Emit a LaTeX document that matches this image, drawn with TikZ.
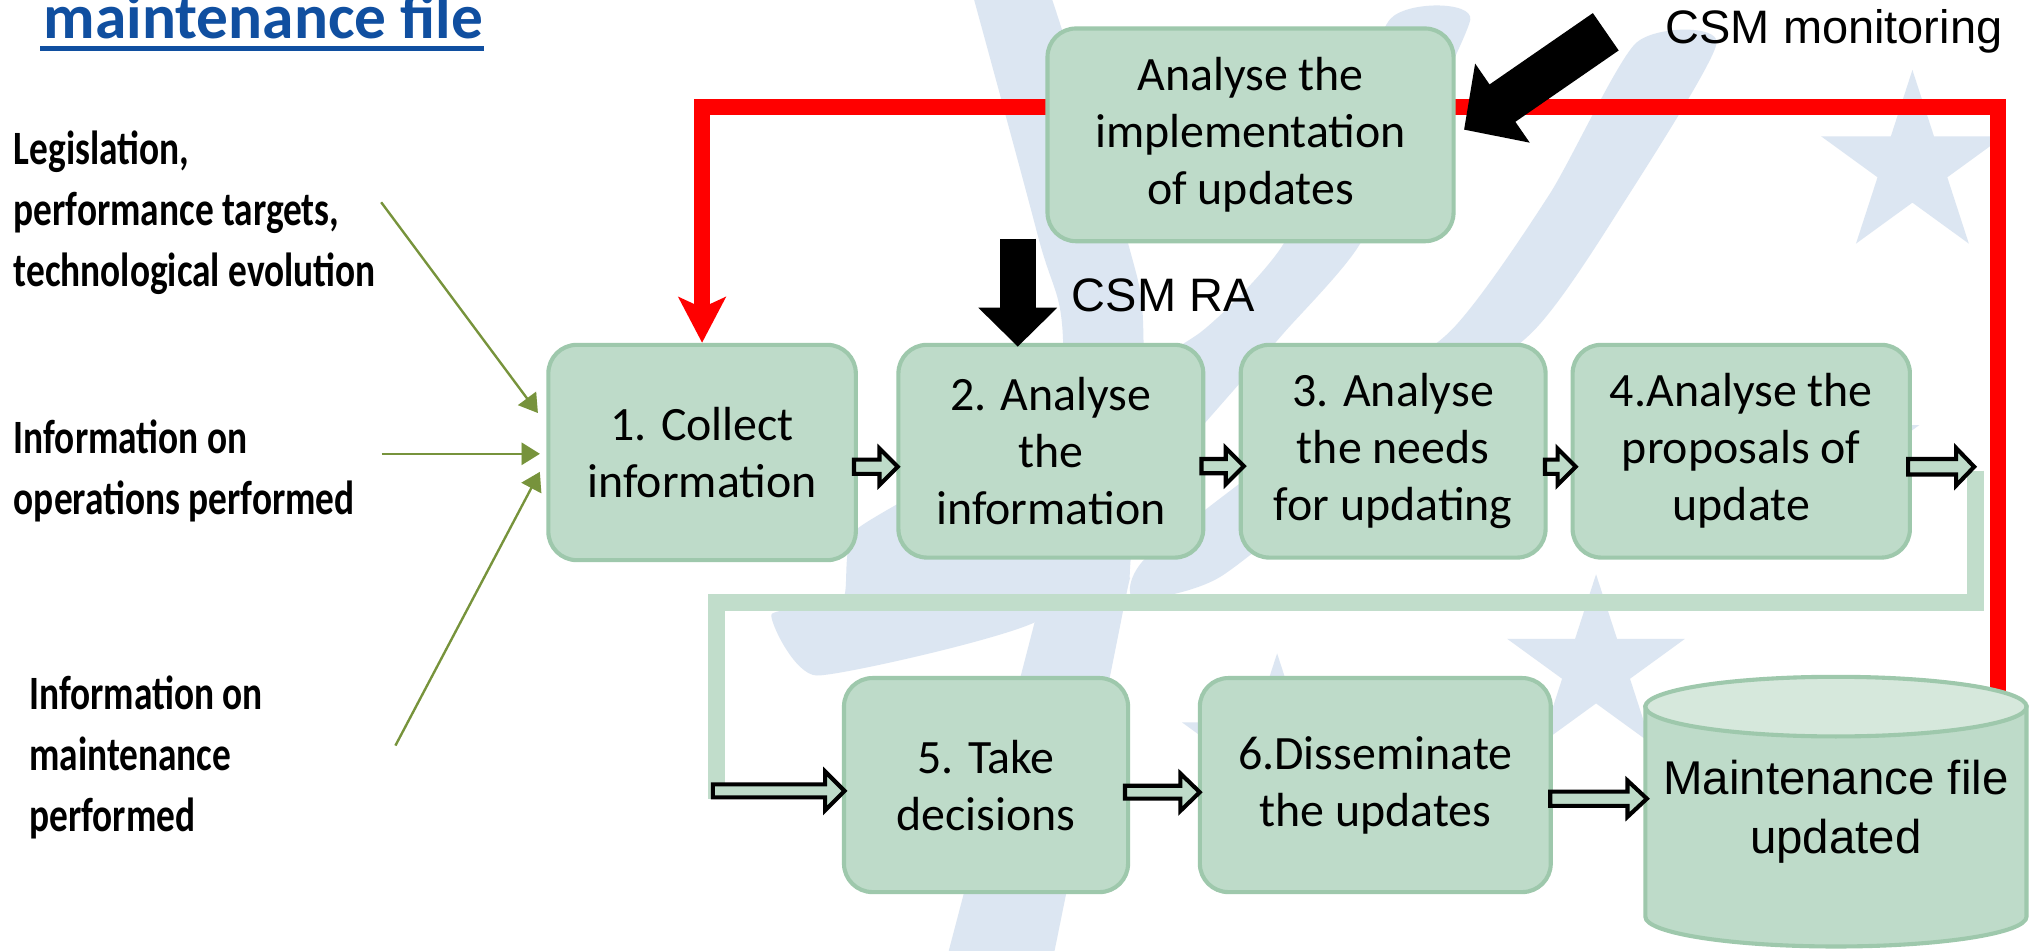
\documentclass[tikz,border=0pt]{standalone}
\usepackage{fontspec}
\setmainfont{Carlito}
\newfontfamily\arialfont{Liberation Sans}
\newfontfamily\sidefont[FakeStretch=0.78]{Carlito}
\usetikzlibrary{arrows.meta,calc,shapes.geometric}

\definecolor{boxfill}{RGB}{190,219,201}
\definecolor{boxline}{RGB}{158,200,172}
\definecolor{cylcap}{RGB}{214,232,220}
\definecolor{loopgreen}{RGB}{193,221,203}
\definecolor{olive}{RGB}{119,147,60}
\definecolor{oliveshadow}{RGB}{215,228,189}
\definecolor{wmblue}{RGB}{220,230,242}
\definecolor{titleblue}{RGB}{16,79,160}
\definecolor{fbred}{RGB}{255,0,0}

\tikzset{
  stepbox/.style={draw=boxline, fill=boxfill, line width=0.9pt, rounded corners=0.22cm,
    align=center, inner sep=0pt, font=\fontsize{10.5}{12.5}\selectfont},
  hollow/.style={draw=black, fill=boxfill, line width=0.9pt, line join=miter},
  sidetext/.style={anchor=west, align=left, inner sep=0pt,
    font=\sidefont\bfseries\fontsize{10.5}{13.4}\selectfont},
  csmlabel/.style={anchor=base west, inner sep=0pt, font=\arialfont\fontsize{10.3}{12}\selectfont},
  inarrow/.style={draw=olive, line width=0.5pt, -{Triangle[length=0.14cm, width=0.17cm]}},
  inshadow/.style={draw=oliveshadow, line width=0.5pt, -{Triangle[length=0.14cm, width=0.17cm]}},
  loopband/.style={draw=loopgreen, line width=0.13cm, line join=miter},
  wmstar/.style={star, star points=5, star point ratio=2.618, fill=wmblue, draw=none, inner sep=0pt}
}

% outlined block arrow: start, tip, half body, half head, head length
\newcommand\hollowarrow[5]{%
  \draw[hollow] let \p1=(#1), \p2=(#2) in
    (\x1,{\y1+#3*0.01cm}) -- ({\x2-#5*0.01cm},{\y1+#3*0.01cm})
    -- ({\x2-#5*0.01cm},{\y1+#4*0.01cm}) -- (\x2,\y1)
    -- ({\x2-#5*0.01cm},{\y1-#4*0.01cm}) -- ({\x2-#5*0.01cm},{\y1-#3*0.01cm})
    -- (\x1,{\y1-#3*0.01cm}) -- cycle;}

\begin{document}
\begin{tikzpicture}[x=0.01cm, y=-0.01cm]
\fill[white] (0,0) rectangle (1568,733);
\useasboundingbox (0,0) rectangle (1568,733);

% faint logo in the background
\fill[wmblue] plot[smooth, tension=0.6] coordinates {(750,-5) (800,180) (820,265) (808,432) (800,472) (730,740)}
  -- plot[smooth, tension=0.6] coordinates {(812,740) (866,472) (872,432) (882,265) (868,180) (810,-5)} -- cycle;
\fill[wmblue] plot[smooth cycle, tension=0.3] coordinates {(1072,15) (1134,15) (1049,188) (990,257) (900,360)
  (802,478) (630,521) (595,474) (650,462) (661,408) (800,330) (925,257) (990,188)};
\fill[wmblue] plot[smooth cycle, tension=0.4] coordinates {(1262,33) (1324,33) (1250,160) (1182,256) (1060,350)
  (941,445) (875,462) (884,430) (1000,340) (1118,256) (1195,150)};
\node[wmstar, minimum size=1.48cm] (wmstarA) at (1475,128) {};
\node[wmstar, minimum size=1.44cm] (wmstarB) at (1231,515) {};
\node[wmstar, minimum size=1.54cm] (wmstarC) at (985,581) {};
\node[wmstar, minimum size=1.50cm] (wmstarD) at (1409,351) {};

% title
\node[anchor=base west, inner sep=0pt, text=titleblue, font=\bfseries\fontsize{13.9}{16}\selectfont]
  (title) at (33,29.6) {maintenance file};
\draw[titleblue, line width=1.1pt] ($(title.base west)+(-2,7.5)$) -- ($(title.base east)+(0,7.5)$);

% inputs
\node[sidetext] (srcA) at (10,164) {Legislation,\\performance targets,\\technological evolution};
\node[sidetext] (srcB) at (10,363) {Information on\\operations performed};
\node[sidetext] (srcC) at (22,584) {Information on\\maintenance\\performed};

% process steps
\node[stepbox, minimum width=2.37cm, minimum height=1.66cm] (b1) at (541.5,349) {1. Collect\\information};
\node[stepbox, minimum width=2.35cm, minimum height=1.64cm] (b2) at (810.5,348) {2. Analyse\\the\\information};
\node[stepbox, minimum width=2.35cm, minimum height=1.64cm] (b3) at (1074.5,348) {3. Analyse\\the needs\\for updating};
\node[stepbox, minimum width=2.60cm, minimum height=1.64cm] (b4) at (1343,348) {4.Analyse the\\proposals of\\update};
\node[stepbox, minimum width=2.19cm, minimum height=1.65cm] (b5) at (760.5,605.5) {5. Take\\decisions};
\node[stepbox, minimum width=2.705cm, minimum height=1.65cm] (b6) at (1060.75,605.5) {6.Disseminate\\the updates};
\node[inner sep=0pt, minimum width=2.94cm, minimum height=2.08cm] (cyl) at (1416,626) {};

% feedback loop from the updated file
\coordinate (fbstart) at ($(cyl.north east)+(-23,23)$);
\draw[fbred, line width=0.12cm, line join=miter, -{Stealth[length=0.35cm, width=0.36cm, inset=0.08cm]}]
  (fbstart) |- ($(b1.north)+(0,-182)$) -- (b1.north);

\node[stepbox, minimum width=3.13cm, minimum height=1.64cm] (top) at (964.5,104) {Analyse the\\implementation\\of updates};

% updated maintenance file
\path[fill=boxfill, draw=boxline, line width=0.9pt] (1269,545) -- (1269,707)
  .. controls (1269,719.7) and (1334.8,730) .. (1416,730)
  .. controls (1497.2,730) and (1563,719.7) .. (1563,707) -- (1563,545) -- cycle;
\draw[fill=cylcap, draw=boxline, line width=0.9pt] (1416,545) ellipse [x radius=147, y radius=23];
\node[align=center, inner sep=0pt, font=\arialfont\fontsize{10.4}{12.8}\selectfont] (cyltext) at (1416,626)
  {Maintenance file\\updated};

% return path from step 4 to step 5
\coordinate (loopR) at ($(b4.east)+(49,15)$);
\coordinate (loopL) at ($(b5.west)+(-97,11)$);
\draw[loopband] (loopR) -- ++(0,102) -| (loopL);

% block arrows between the steps
\coordinate (a12s) at ($(b1.east)+(-3,11)$);  \coordinate (a12t) at ($(b2.west)+(1,12)$);
\coordinate (a23s) at ($(b2.east)+(-3,11.5)$); \coordinate (a23t) at ($(b3.west)+(4,11.5)$);
\coordinate (a34s) at ($(b3.east)+(-2,12)$);  \coordinate (a34t) at ($(b4.west)+(4,12)$);
\coordinate (a4cs) at ($(b4.east)+(-3,12)$);  \coordinate (a4ct) at ($(b4.east)+(48,12)$);
\coordinate (a5s)  at ($(b5.west)+(-99.5,4.5)$); \coordinate (a5t) at ($(b5.west)+(2,4.5)$);
\coordinate (a56s) at ($(b5.east)+(-4,5.5)$);  \coordinate (a56t) at ($(b6.west)+(1.5,5.5)$);
\coordinate (a6cs) at ($(b6.east)+(-2,10.5)$); \coordinate (a6ct) at ($(cyl.west)+(2,-10)$);
\hollowarrow{a12s}{a12t}{5.5}{14}{14}
\hollowarrow{a23s}{a23t}{5.5}{14}{14}
\hollowarrow{a34s}{a34t}{5.5}{14}{14}
\hollowarrow{a4cs}{a4ct}{6}{14.5}{14}
\hollowarrow{a5s}{a5t}{5}{15}{15}
\hollowarrow{a56s}{a56t}{5}{14.5}{15}
\hollowarrow{a6cs}{a6ct}{5.5}{14}{15}

% inputs into step 1
\coordinate (in1) at (294,156);
\coordinate (in2) at (294.6,350);
\coordinate (in3) at (305,575);
\coordinate (t1) at ($(b1.west)+(-6.5,-30.5)$);
\coordinate (t2) at ($(b1.west)+(-5,1)$);
\coordinate (t3) at ($(b1.west)+(-5,15)$);
\begin{scope}[shift={(4,5)}]
  \draw[inshadow] (in1) -- (t1);
  \draw[inshadow] (in2) -- (t2);
  \draw[inshadow] (in3) -- (t3);
\end{scope}
\draw[inarrow] (in1) -- (t1);
\draw[inarrow] (in2) -- (t2);
\draw[inarrow] (in3) -- (t3);

% common safety methods
\coordinate (raTail) at (785,184);
\coordinate (raTip) at ($(b2.north)+(-25.5,3)$);
\draw[line width=0.28cm, -{Triangle[length=0.30cm, width=0.59cm]}] (raTail) -- (raTip);
\node[csmlabel] (lblra) at (826,240) {CSM RA};

\coordinate (monTail) at (1238.5,24.5);
\coordinate (monTip) at ($(top.east)+(6.5,-4)$);
\draw[line width=0.35cm, -{Triangle[length=0.36cm, width=0.72cm]}] (monTail) -- (monTip);
\node[csmlabel] (lblmon) at (1284,33.6) {CSM monitoring};
\end{tikzpicture}
\end{document}
